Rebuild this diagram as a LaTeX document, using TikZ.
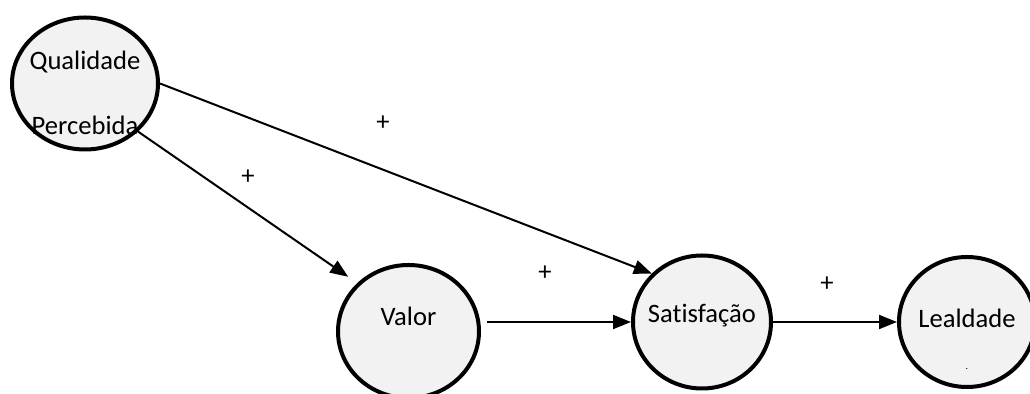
\documentclass[tikz,border=0pt]{standalone}
\usepackage{fontspec}
\setmainfont{Carlito}[Ligatures={NoCommon,NoContextual}]
\usetikzlibrary{shapes.geometric, arrows.meta}
\definecolor{constructfill}{RGB}{242,242,242}

\begin{document}
\begin{tikzpicture}[x=0.5pt,y=-0.5pt,
    font=\fontsize{13.3}{16}\selectfont,
    construct/.style={ellipse, draw, line width=2pt, fill=constructfill, inner sep=0pt},
    sign/.style={inner sep=0pt},
    link/.style={-{Triangle[length=9pt,width=7pt]}, line width=1pt}]
  \useasboundingbox (0,0) rectangle (1030,394);
  % constructs
  \node[construct, minimum width=73pt, minimum height=66pt,
        label={[yshift=10.5pt]center:Qualidade},
        label={[yshift=-20.75pt]center:Percebida}] (qp) at (85,83.5) {};
  \node[construct, minimum width=70.5pt, minimum height=66.5pt,
        label={[yshift=7.75pt]center:Valor}] (valor) at (408.5,331.5) {};
  \node[construct, minimum width=69pt, minimum height=66.5pt,
        label={[yshift=3pt]center:Satisfação}] (sat) at (702,322) {};
  \node[construct, minimum width=68pt, minimum height=65pt,
        label={[yshift=2pt]center:Lealdade},
        label={[yshift=-23.5pt, font=\tiny]center:.}] (leal) at (967,322) {};
  % paths
  \draw[link] (qp.east) -- (sat.north west);
  \draw[link, shorten >=5.5pt] (qp.south east) -- (valor.north west);
  \draw[link, shorten <=3pt] (valor.east |- sat.west) -- (sat.west);
  \draw[link] (sat) -- (leal);
  % signs
  \node[sign] (plus-qs) at (383,123) {+};
  \node[sign] (plus-qv) at (248,177) {+};
  \node[sign] (plus-vs) at (545,273) {+};
  \node[sign] (plus-sl) at (827,284) {+};
\end{tikzpicture}
\end{document}
